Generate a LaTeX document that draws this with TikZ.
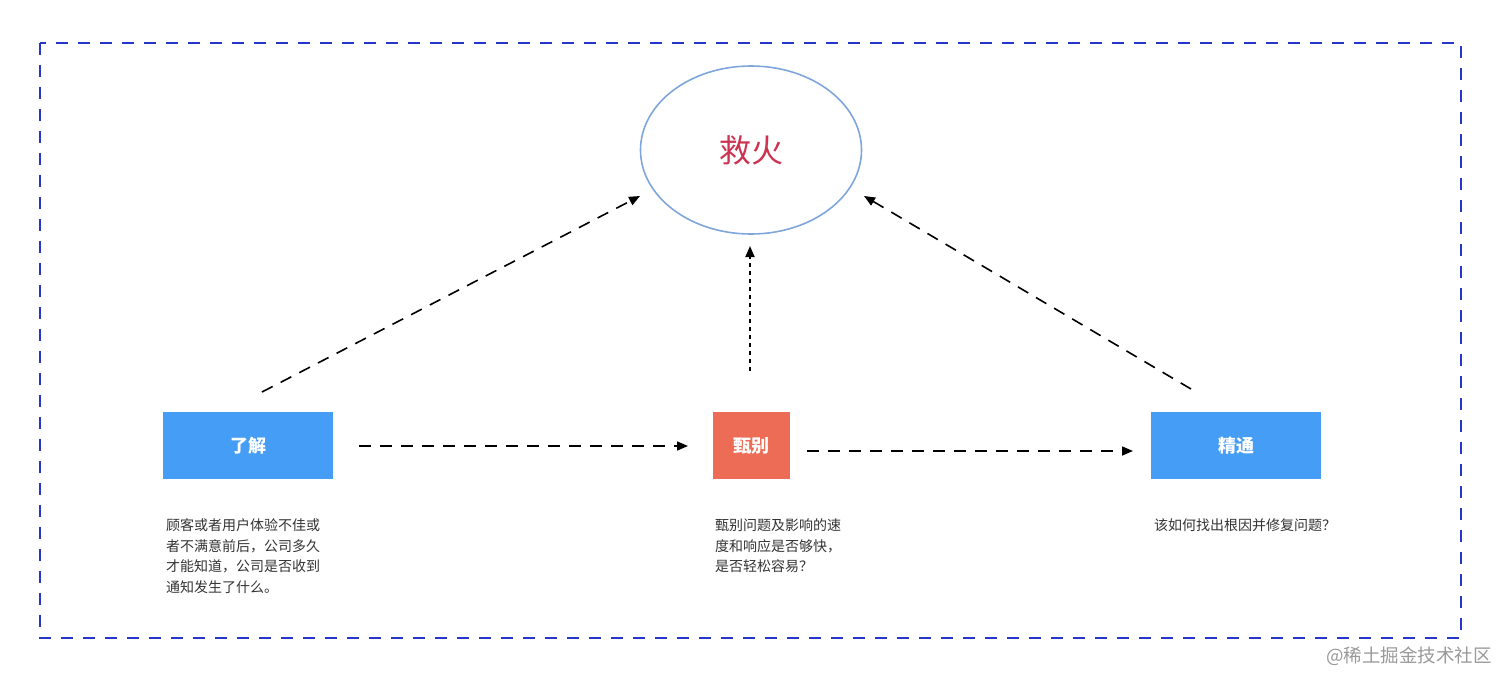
\documentclass[tikz,border=0pt]{standalone}
\usepackage{fontspec}
\setmainfont{Noto Sans CJK SC}
\usetikzlibrary{arrows.meta,shapes.geometric}
\definecolor{frameblue}{HTML}{2536C8}
\definecolor{ellblue}{HTML}{7FA6DC}
\definecolor{firered}{HTML}{CC3350}
\definecolor{boxblue}{HTML}{469DF5}
\definecolor{boxred}{HTML}{EC6C55}
\definecolor{txt}{HTML}{333333}
\tikzset{
  every node/.style={inner sep=0pt,outer sep=0pt},
  stagebox/.style={minimum height=67pt,text=white,font=\fontsize{18}{20}\selectfont\bfseries},
  desc/.style={anchor=north west,align=left,text=txt,font=\fontsize{14}{20.5}\selectfont},
  conn/.style={-{Triangle[length=11pt,width=9pt]},line width=1.6pt,dash pattern=on 12pt off 9pt},
  dotconn/.style={-{Triangle[length=11pt,width=9pt]},line width=1.8pt,dash pattern=on 4pt off 4pt},
}
\begin{document}
\begin{tikzpicture}[x=1pt,y=-1pt]
\useasboundingbox (0,0) rectangle (1508,686);
\draw[frameblue,line width=1.6pt,dash pattern=on 12pt off 10pt] (40,43) rectangle (1461,638);
\node[ellipse,draw=ellblue,line width=1.6pt,minimum width=221pt,minimum height=168pt] (fire) at (751,150) {};
\node[text=firered,font=\fontsize{32}{34}\selectfont] (firetxt) at (751,150) {救火};
\node[stagebox,fill=boxblue,minimum width=170pt] (know) at (248,445.5) {了解};
\node[stagebox,fill=boxred,minimum width=77pt] (ident) at (751.5,445.5) {甄别};
\node[stagebox,fill=boxblue,minimum width=170pt] (master) at (1236,445.5) {精通};
\node[desc] (d1) at (166,519) {顾客或者用户体验不佳或\\者不满意前后，公司多久\\才能知道，公司是否收到\\通知发生了什么。};
\node[desc] (d2) at (715,519) {甄别问题及影响的速\\度和响应是否够快，\\是否轻松容易？};
\node[desc] (d3) at (1154,519) {该如何找出根因并修复问题？};
\node[text=gray!80,font=\fontsize{18.5}{20}\selectfont,anchor=west] (wm) at (1326,656) {@稀土掘金技术社区};
\coordinate (a1s) at (359,446); \coordinate (a1e) at (688,446);
\coordinate (a2s) at (807,451); \coordinate (a2e) at (1133,451);
\coordinate (a3s) at (262,392); \coordinate (a3e) at (640,196);
\coordinate (a4s) at (750,371); \coordinate (a4e) at (750,246);
\coordinate (a5s) at (1191,389); \coordinate (a5e) at (864,196);
\draw[conn] (a1s) -- (a1e);
\draw[conn] (a2s) -- (a2e);
\draw[conn] (a3s) -- (a3e);
\draw[dotconn] (a4s) -- (a4e);
\draw[conn] (a5s) -- (a5e);
\end{tikzpicture}
\end{document}
